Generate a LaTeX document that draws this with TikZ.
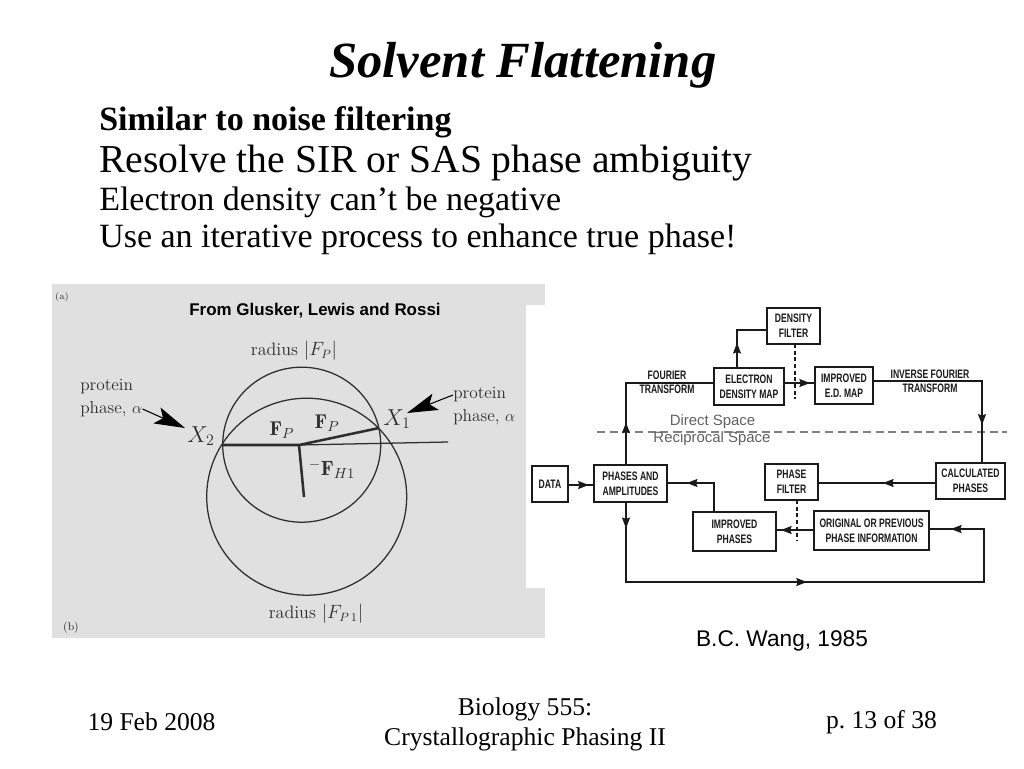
\documentclass[tikz,border=0pt]{standalone}
\usepackage{fontspec}
\usetikzlibrary{arrows.meta,decorations.markings,calc}
\newfontfamily\tms{Liberation Serif}
\newfontfamily\hlv{Liberation Sans}
\newfontfamily\cond[FakeStretch=0.7]{Liberation Sans}
\definecolor{imggray}{HTML}{E0E0E0}
\definecolor{ink}{HTML}{1A1A1A}
\definecolor{scan}{HTML}{2E2E2E}
\frenchspacing
\tikzset{
  box/.style={draw=ink,line width=1pt,fill=white,inner sep=0pt,outer sep=0pt,align=center,
    text=ink,font=\cond\bfseries\fontsize{9.2}{11.5}\selectfont},
  flow/.style={draw=ink,line width=1.1pt},
  arrowat/.style={postaction={decorate},decoration={markings,
    mark=at position #1 with {\arrow{Stealth[length=8pt,width=6pt,inset=1pt]}}}},
  flowlabel/.style={text=ink,align=center,inner sep=0pt,font=\cond\bfseries\fontsize{9.2}{10.4}\selectfont},
  spacelabel/.style={text=black!62,inner sep=0pt,font=\hlv\fontsize{11.2}{12}\selectfont},
  filterdash/.style={draw=ink,line width=1pt,dash pattern=on 3pt off 2pt},
  head/.style={inner sep=0pt,anchor=base west,text=black,font=\tms},
  foot/.style={inner sep=0pt,align=center,text=black,font=\tms\fontsize{19.2}{22.5}\selectfont},
  scantext/.style={inner sep=0pt,text=scan,align=left,font=\fontsize{13}{16.5}\selectfont},
  curve/.style={draw=scan,line width=.95pt},
  vec/.style={draw=scan,line width=1.9pt},
  fat/.style={draw=black,line width=.8pt,-{Stealth[length=23pt,width=13pt,inset=5pt]}},
}
\newcommand{\flowbox}[6]{\node[box,minimum width={(#4-#2)*0.75pt},minimum height={(#5-#3)*0.75pt}]
  (#1) at ({(#2+#4)/2},{(#3+#5)/2}) {#6};}
\begin{document}
\begin{tikzpicture}[x=0.75pt,y=-0.75pt]
\useasboundingbox (0,0) rectangle (1024,768);
\fill[white] (0,0) rectangle (1024,768);
% titles
\node[head,font=\tms\bfseries\itshape\fontsize{38}{38}\selectfont] (title) at (329,77.5) {Solvent Flattening};
\node[head,font=\tms\bfseries\fontsize{25.5}{26}\selectfont] (l1) at (99,130) {Similar to noise filtering};
\node[head,font=\tms\fontsize{29.7}{30}\selectfont] (l2) at (99,172.5) {Resolve the SIR or SAS phase ambiguity};
\node[head,font=\tms\fontsize{25.5}{26}\selectfont] (l3) at (99,210) {Electron density can’t be negative};
\node[head,font=\tms\fontsize{25.5}{26}\selectfont] (l4) at (99,247) {Use an iterative process to enhance true phase!};
% left image
\fill[imggray] (52,284) rectangle (545,638);
\fill[white] (526,305) rectangle (545,588);
\node[inner sep=0pt,font=\hlv\bfseries\fontsize{12.7}{13}\selectfont] (src) at (315,311) {From Glusker, Lewis and Rossi};
\node[scantext,font=\fontsize{7}{8}\selectfont] (a) at (62,297) {(a)};
\node[scantext,font=\fontsize{8.5}{9}\selectfont] (b) at (71,628) {(b)};
\draw[curve] (301.7,444.7) circle[x radius=79,y radius=77.5];
\draw[curve] (306.7,496.7) circle[x radius=100,y radius=98.5];
\coordinate (x2p) at (222,445);
\coordinate (o) at (299,445);
\coordinate (x1p) at (379,428);
\coordinate (ax) at (448,442);
\coordinate (fh) at (304,497);
\coordinate (tipl) at (185,428);
\coordinate (tipr) at (407,413);
\draw[curve] (o) -- (ax);
\draw[vec] (x2p) -- (o) -- (x1p);
\draw[vec] (o) -- (fh);
\node[scantext,font=\fontsize{13.5}{16}\selectfont] (rp) at (294,351) {radius $|F_P|$};
\node[scantext,font=\fontsize{13.5}{16}\selectfont] (rp1) at (316,614) {radius $|F_{P\,1}|$};
\node[scantext,anchor=west] (lp1) at (80,387) {protein};
\node[scantext,anchor=west] (lp2) at (80,409) {phase, $\alpha$};
\node[scantext,anchor=west] (rp2) at (453,395) {protein};
\node[scantext,anchor=west] (rp3) at (453,417) {phase, $\alpha$};
\node[scantext,font=\fontsize{16.5}{17}\selectfont] (x2) at (201,436) {$X_2$};
\node[scantext,font=\fontsize{16.5}{17}\selectfont] (x1) at (397,419) {$X_1$};
\node[scantext,font=\fontsize{15}{16}\selectfont] (fp1) at (282,430) {$\mathbf{F}_P$};
\node[scantext,font=\fontsize{15}{16}\selectfont] (fp2) at (327,423) {$\mathbf{F}_P$};
\node[scantext,font=\fontsize{15.5}{16}\selectfont] (fh1) at (332,469) {$^{-}\mathbf{F}_{H1}$};
\draw[fat] (lp2.east) -- (tipl);
\draw[fat] (rp2.west) -- (tipr);
% flow chart
\draw[draw=black!50,line width=.9pt,dash pattern=on 6pt off 3.5pt] (597,432) coordinate (dl) -- (1007,432) coordinate (dr);
\node[spacelabel] (ds) at (712.5,422) {Direct Space};
\node[spacelabel] (rs) at (712,439) {Reciprocal Space};
\flowbox{data}{532}{466}{568}{502}{DATA}
\flowbox{pa}{594}{465}{667}{502}{PHASES AND\\AMPLITUDES}
\flowbox{ip}{693}{512}{776}{551}{IMPROVED\\PHASES}
\flowbox{ed}{714}{368}{784}{405}{ELECTRON\\DENSITY MAP}
\flowbox{df}{767}{308}{820}{344}{DENSITY\\FILTER}
\flowbox{ie}{815}{367}{873}{404}{IMPROVED\\E.D. MAP}
\flowbox{cp}{936}{463}{1005}{499}{CALCULATED\\PHASES}
\flowbox{pf}{765}{464}{818}{500}{PHASE\\FILTER}
\flowbox{op}{814}{511}{929}{550}{ORIGINAL OR PREVIOUS\\PHASE INFORMATION}
\coordinate (j1) at (626,383);
\coordinate (j2) at (737,330);
\coordinate (j3) at (714,483);
\coordinate (j4) at (626,582);
\coordinate (j5) at (984,582);
\coordinate (j6) at (984,529);
\coordinate (j7) at (982,381);
\draw[flow,arrowat=.25] (j1 |- pa.north) -- (j1) -- (j1 -| ed.west);
\draw[flow,arrowat=.37] (j2 |- ed.north) -- (j2) -- (j2 -| df.west);
\draw[flow,arrowat=.8] (data.east |- 0,485) -- (pa.west |- 0,485);
\path[flow,draw,postaction={decorate},decoration={markings,
  mark=at position .048 with {\arrow{Stealth[length=8pt,width=6pt,inset=1pt]}},
  mark=at position .478 with {\arrow{Stealth[length=8pt,width=6pt,inset=1pt]}},
  mark=at position .96 with {\arrow{Stealth[length=8pt,width=6pt,inset=1pt]}}}]
  (j4 |- pa.south) -- (j4) -- (j5) -- (j6) -- (j6 -| op.east);
\draw[flow,arrowat=.74] (j3 |- ip.north) -- (j3) -- (j3 -| pa.east);
\draw[flow,arrowat=.84] (ed.east |- 0,383) -- (ie.west |- 0,383);
\draw[flow,arrowat=.8] (j7 -| ie.east) -- (j7) -- (j7 |- cp.north);
\draw[flow,arrowat=.45] (cp.west |- 0,483) -- (pf.east |- 0,483);
\draw[flow,arrowat=.87] (op.west |- 0,530) -- (ip.east |- 0,530);
\coordinate (e1) at (795,399);
\coordinate (e2) at (797,541);
\draw[filterdash] (df.south -| e1) -- (e1);
\draw[filterdash] (pf.south -| e2) -- (e2);
\node[flowlabel] (ft) at (667,382) {FOURIER\\TRANSFORM};
\node[flowlabel] (ift) at (930,381.5) {INVERSE FOURIER\\TRANSFORM};
\node[inner sep=0pt,font=\hlv\fontsize{17}{18}\selectfont] (wang) at (782,641) {B.C. Wang, 1985};
% footer
\node[foot] (fl) at (151.5,722) {19 Feb 2008};
\node[foot] (fc) at (525,724) {Biology 555:\\Crystallographic Phasing II};
\node[foot] (fr) at (881.5,722) {p. 13 of 38};
\end{tikzpicture}
\end{document}
